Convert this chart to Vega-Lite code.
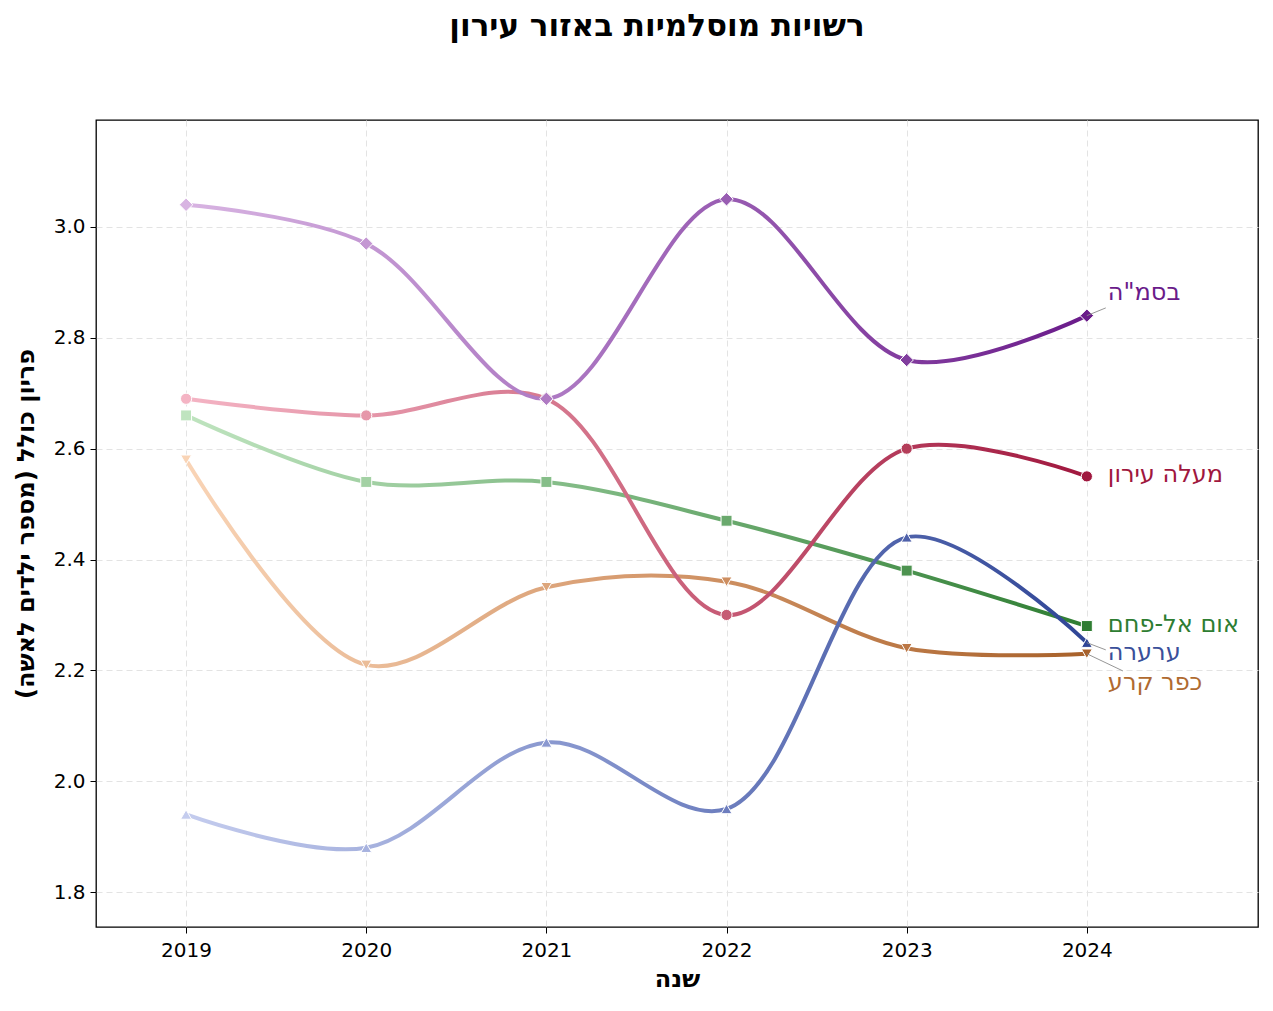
{
  "$schema": "https://vega.github.io/schema/vega-lite/v6.json",
  "width": 1162,
  "height": 807,
  "autosize": "none",
  "padding": {"left": 96, "top": 120, "right": 15, "bottom": 84},
  "background": "white",
  "title": {
    "text": "רשויות מוסלמיות באזור עירון",
    "fontSize": 31,
    "fontWeight": "bold",
    "font": "DejaVu Sans",
    "color": "black",
    "anchor": "middle",
    "offset": 77,
    "dx": -20
  },
  "config": {
    "font": "DejaVu Sans",
    "view": {"stroke": "black", "strokeWidth": 1.3},
    "axis": {
      "labelFont": "DejaVu Sans",
      "labelFontSize": 20,
      "labelColor": "black",
      "titleFont": "DejaVu Sans",
      "titleFontSize": 24,
      "titleFontWeight": "bold",
      "titleColor": "black",
      "tickColor": "black",
      "tickSize": 6,
      "domain": false,
      "grid": true,
      "gridColor": "#e3e3e3",
      "gridDash": [6, 4],
      "gridWidth": 1
    }
  },
  "datasets": {
    "tfr": [
      {"name": "בסמ\"ה", "year": 2019, "value": 3.04},
      {"name": "בסמ\"ה", "year": 2020, "value": 2.97},
      {"name": "בסמ\"ה", "year": 2021, "value": 2.69},
      {"name": "בסמ\"ה", "year": 2022, "value": 3.05},
      {"name": "בסמ\"ה", "year": 2023, "value": 2.76},
      {"name": "בסמ\"ה", "year": 2024, "value": 2.84},
      {"name": "מעלה עירון", "year": 2019, "value": 2.69},
      {"name": "מעלה עירון", "year": 2020, "value": 2.66},
      {"name": "מעלה עירון", "year": 2021, "value": 2.69},
      {"name": "מעלה עירון", "year": 2022, "value": 2.30},
      {"name": "מעלה עירון", "year": 2023, "value": 2.60},
      {"name": "מעלה עירון", "year": 2024, "value": 2.55},
      {"name": "אום אל-פחם", "year": 2019, "value": 2.66},
      {"name": "אום אל-פחם", "year": 2020, "value": 2.54},
      {"name": "אום אל-פחם", "year": 2021, "value": 2.54},
      {"name": "אום אל-פחם", "year": 2022, "value": 2.47},
      {"name": "אום אל-פחם", "year": 2023, "value": 2.38},
      {"name": "אום אל-פחם", "year": 2024, "value": 2.28},
      {"name": "ערערה", "year": 2019, "value": 1.94},
      {"name": "ערערה", "year": 2020, "value": 1.88},
      {"name": "ערערה", "year": 2021, "value": 2.07},
      {"name": "ערערה", "year": 2022, "value": 1.95},
      {"name": "ערערה", "year": 2023, "value": 2.44},
      {"name": "ערערה", "year": 2024, "value": 2.25},
      {"name": "כפר קרע", "year": 2019, "value": 2.58},
      {"name": "כפר קרע", "year": 2020, "value": 2.21},
      {"name": "כפר קרע", "year": 2021, "value": 2.35},
      {"name": "כפר קרע", "year": 2022, "value": 2.36},
      {"name": "כפר קרע", "year": 2023, "value": 2.24},
      {"name": "כפר קרע", "year": 2024, "value": 2.23}
    ]
  },
  "encoding": {
    "x": {
      "field": "year",
      "type": "quantitative",
      "title": "שנה",
      "scale": {"domain": [2018.5, 2024.95], "nice": false, "zero": false},
      "axis": {"values": [2019, 2020, 2021, 2022, 2023, 2024], "format": "d", "titlePadding": 7, "labelPadding": 7}
    },
    "y": {
      "field": "value",
      "type": "quantitative",
      "title": "פריון כולל (מספר ילדים לאשה)",
      "scale": {"domain": [1.737, 3.193], "nice": false, "zero": false},
      "axis": {"values": [1.8, 2.0, 2.2, 2.4, 2.6, 2.8, 3.0], "format": ".1f", "titlePadding": 15, "labelPadding": 5}
    }
  },
  "layer": [
    {
      "data": {"name": "tfr"},
      "transform": [{"filter": "datum.name === 'אום אל-פחם'"}],
      "mark": {
        "type": "line", "interpolate": "catmull-rom", "strokeWidth": 4,
        "color": {"gradient": "linear", "x1": 0, "x2": 1, "y1": 0, "y2": 0,
          "stops": [{"offset": 0, "color": "#bfe4bf"}, {"offset": 0.5, "color": "#78b47c"}, {"offset": 1, "color": "#2e7d32"}]}
      },
      "encoding": {}
    },
    {
      "data": {"name": "tfr"},
      "transform": [{"filter": "datum.name === 'כפר קרע'"}],
      "mark": {
        "type": "line", "interpolate": "catmull-rom", "strokeWidth": 4,
        "color": {"gradient": "linear", "x1": 0, "x2": 1, "y1": 0, "y2": 0,
          "stops": [{"offset": 0, "color": "#f9d4b6"}, {"offset": 0.5, "color": "#d69a6e"}, {"offset": 1, "color": "#a8612a"}]}
      },
      "encoding": {}
    },
    {
      "data": {"name": "tfr"},
      "transform": [{"filter": "datum.name === 'מעלה עירון'"}],
      "mark": {
        "type": "line", "interpolate": "catmull-rom", "strokeWidth": 4,
        "color": {"gradient": "linear", "x1": 0, "x2": 1, "y1": 0, "y2": 0,
          "stops": [{"offset": 0, "color": "#f4b4c4"}, {"offset": 0.5, "color": "#cf6a82"}, {"offset": 1, "color": "#a0173e"}]}
      },
      "encoding": {}
    },
    {
      "data": {"name": "tfr"},
      "transform": [{"filter": "datum.name === 'ערערה'"}],
      "mark": {
        "type": "line", "interpolate": "catmull-rom", "strokeWidth": 4,
        "color": {"gradient": "linear", "x1": 0, "x2": 1, "y1": 0, "y2": 0,
          "stops": [{"offset": 0, "color": "#c4ccee"}, {"offset": 0.5, "color": "#7c8cc8"}, {"offset": 1, "color": "#2f4596"}]}
      },
      "encoding": {}
    },
    {
      "data": {"name": "tfr"},
      "transform": [{"filter": "datum.name === 'בסמ\"ה'"}],
      "mark": {
        "type": "line", "interpolate": "catmull-rom", "strokeWidth": 4,
        "color": {"gradient": "linear", "x1": 0, "x2": 1, "y1": 0, "y2": 0,
          "stops": [{"offset": 0, "color": "#d8b4e2"}, {"offset": 0.5, "color": "#a46cbc"}, {"offset": 1, "color": "#6a1b8a"}]}
      },
      "encoding": {}
    },
    {
      "data": {"name": "tfr"},
      "transform": [{"filter": "datum.name === 'אום אל-פחם'"}],
      "mark": {"type": "point", "shape": "square", "filled": true, "size": 120, "stroke": "white", "strokeWidth": 1, "opacity": 1},
      "encoding": {
        "color": {"field": "year", "type": "quantitative", "legend": null,
          "scale": {"domain": [2019, 2021.5, 2024], "range": ["#bfe4bf", "#78b47c", "#2e7d32"]}}
      }
    },
    {
      "data": {"name": "tfr"},
      "transform": [{"filter": "datum.name === 'כפר קרע'"}],
      "mark": {"type": "point", "shape": "triangle-down", "filled": true, "size": 120, "stroke": "white", "strokeWidth": 1, "opacity": 1},
      "encoding": {
        "color": {"field": "year", "type": "quantitative", "legend": null,
          "scale": {"domain": [2019, 2021.5, 2024], "range": ["#f9d4b6", "#d69a6e", "#a8612a"]}}
      }
    },
    {
      "data": {"name": "tfr"},
      "transform": [{"filter": "datum.name === 'מעלה עירון'"}],
      "mark": {"type": "point", "shape": "circle", "filled": true, "size": 125, "stroke": "white", "strokeWidth": 1, "opacity": 1},
      "encoding": {
        "color": {"field": "year", "type": "quantitative", "legend": null,
          "scale": {"domain": [2019, 2021.5, 2024], "range": ["#f4b4c4", "#cf6a82", "#a0173e"]}}
      }
    },
    {
      "data": {"name": "tfr"},
      "transform": [{"filter": "datum.name === 'ערערה'"}],
      "mark": {"type": "point", "shape": "triangle-up", "filled": true, "size": 120, "stroke": "white", "strokeWidth": 1, "opacity": 1},
      "encoding": {
        "color": {"field": "year", "type": "quantitative", "legend": null,
          "scale": {"domain": [2019, 2021.5, 2024], "range": ["#c4ccee", "#7c8cc8", "#2f4596"]}}
      }
    },
    {
      "data": {"name": "tfr"},
      "transform": [{"filter": "datum.name === 'בסמ\"ה'"}],
      "mark": {"type": "point", "shape": "diamond", "filled": true, "size": 180, "stroke": "white", "strokeWidth": 1, "opacity": 1},
      "encoding": {
        "color": {"field": "year", "type": "quantitative", "legend": null,
          "scale": {"domain": [2019, 2021.5, 2024], "range": ["#d8b4e2", "#a46cbc", "#6a1b8a"]}}
      }
    },
    {
      "data": {"values": [
        {"name": "בסמ\"ה", "year": 2024, "value": 2.84, "rx": 2024.105, "ry": 2.854},
        {"name": "ערערה", "year": 2024, "value": 2.25, "rx": 2024.105, "ry": 2.237},
        {"name": "כפר קרע", "year": 2024, "value": 2.23, "rx": 2024.2, "ry": 2.199}
      ]},
      "mark": {"type": "rule", "color": "#8a8a8a", "strokeWidth": 0.9},
      "encoding": {
        "x2": {"field": "rx"},
        "y2": {"field": "ry"}
      }
    },
    {
      "data": {"values": [
        {"name": "בסמ\"ה", "year": 2024, "value": 2.881},
        {"name": "מעלה עירון", "year": 2024, "value": 2.553},
        {"name": "אום אל-פחם", "year": 2024, "value": 2.282},
        {"name": "ערערה", "year": 2024, "value": 2.231},
        {"name": "כפר קרע", "year": 2024, "value": 2.177}
      ]},
      "mark": {"type": "text", "align": "left", "baseline": "middle", "fontSize": 24, "font": "DejaVu Sans", "dx": 21},
      "encoding": {
        "text": {"field": "name", "type": "nominal"},
        "color": {"field": "name", "type": "nominal", "legend": null,
          "scale": {"domain": ["בסמ\"ה", "מעלה עירון", "אום אל-פחם", "ערערה", "כפר קרע"],
                    "range": ["#6a1b8a", "#a0173e", "#2e7d32", "#3a4f9a", "#b06a30"]}}
      }
    }
  ],
  "resolve": {"scale": {"color": "independent"}}
}
